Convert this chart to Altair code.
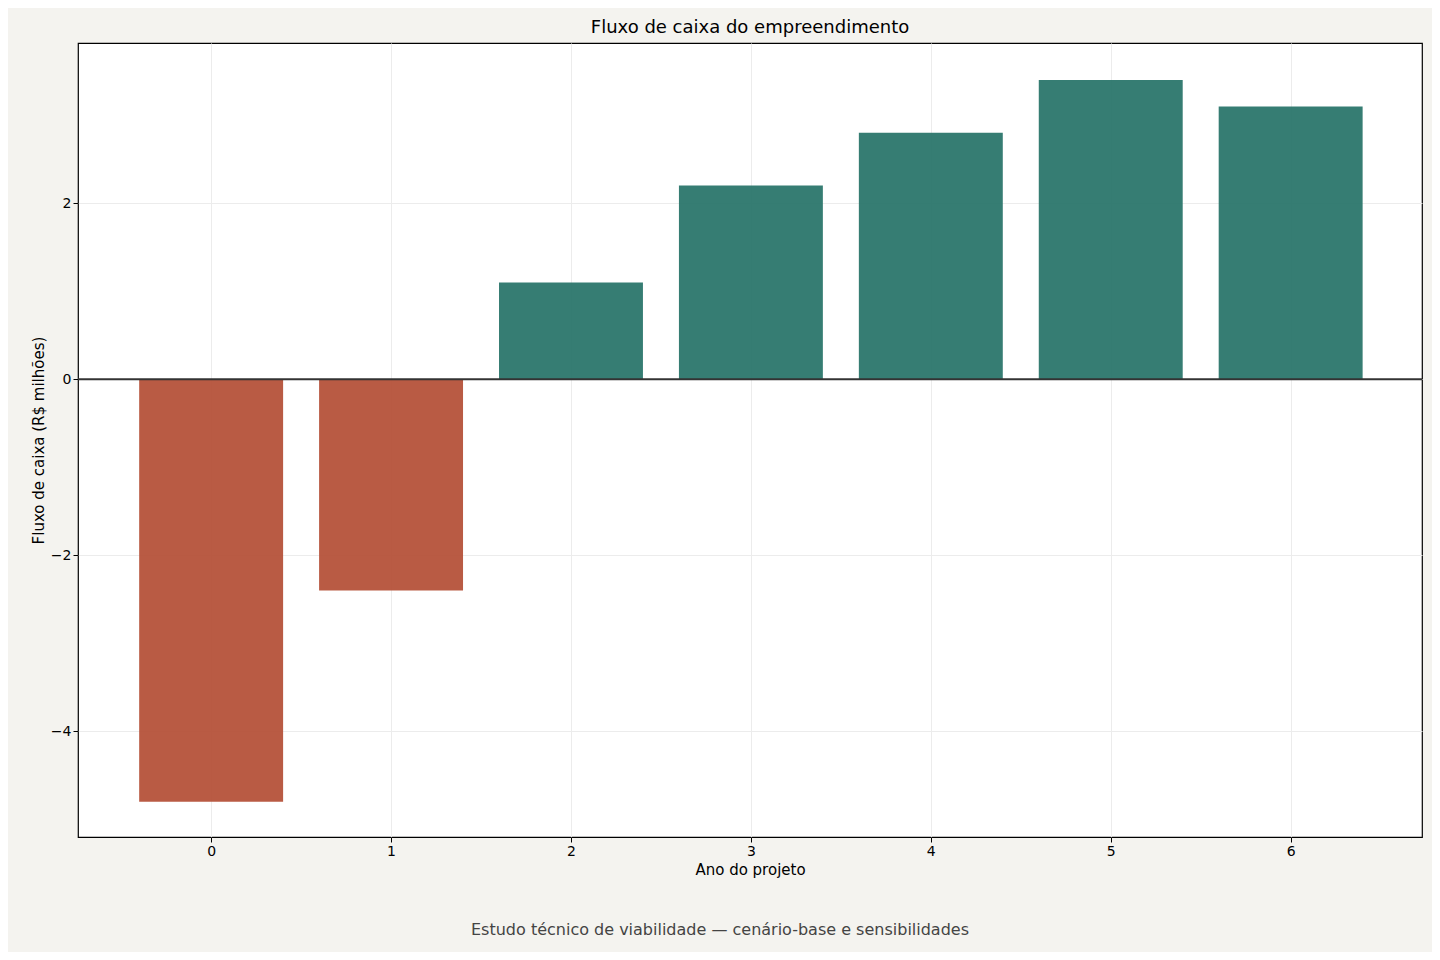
import altair as alt
import pandas as pd

years = [0, 1, 2, 3, 4, 5, 6]
cash_flow = [-4.8, -2.4, 1.1, 2.2, 2.8, 3.4, 3.1]

data = pd.DataFrame({"ano": years, "fluxo": cash_flow})
FONT = "DejaVu Sans"

base = alt.Chart(data).transform_calculate(
    x0="datum.ano - 0.4", x1="datum.ano + 0.4"
)

bars = base.mark_bar(opacity=0.95).encode(
    x=alt.X("x0:Q", title="Ano do projeto",
            scale=alt.Scale(domain=[-0.74, 6.73], nice=False, zero=False),
            axis=alt.Axis(values=years, format="d", tickCount=7)),
    x2="x1:Q",
    y=alt.Y("fluxo:Q", title="Fluxo de caixa (R$ milhões)",
            scale=alt.Scale(domain=[-5.2, 3.82], nice=False),
            axis=alt.Axis(values=[-4, -2, 0, 2], format="d")),
    y2=alt.datum(0),
    color=alt.condition(alt.datum.fluxo < 0, alt.value("#b5523a"), alt.value("#2b766b")),
)

zero = alt.Chart(pd.DataFrame({"z": [0]})).mark_rule(color="#333333", strokeWidth=2).encode(
    y="z:Q"
)

note = alt.Chart(pd.DataFrame({"t": ["Estudo técnico de viabilidade — cenário-base e sensibilidades"]})).mark_text(
    font=FONT, fontSize=16, color="#444444", align="center"
).encode(text="t:N", x=alt.value(642), y=alt.value(887))

chart = (bars + zero + note).properties(
    width=1344, height=794,
    autosize=alt.AutoSizeParams(type="none"),
    padding={"left": 70, "top": 35, "right": 10, "bottom": 115},
    background="#f4f3ef",
    title=alt.Title("Fluxo de caixa do empreendimento", font=FONT, fontSize=18,
                    fontWeight="normal", offset=6),
).configure_view(fill="white", stroke="black", strokeWidth=1.2).configure_axis(
    labelFont=FONT, titleFont=FONT, labelFontSize=14, titleFontSize=15,
    titleFontWeight="normal", labelColor="black", titleColor="black",
    gridColor="#ececec", domain=False, tickColor="black", tickSize=5,
)

chart.save("out.html", embed_options={"renderer": "svg", "actions": False})
